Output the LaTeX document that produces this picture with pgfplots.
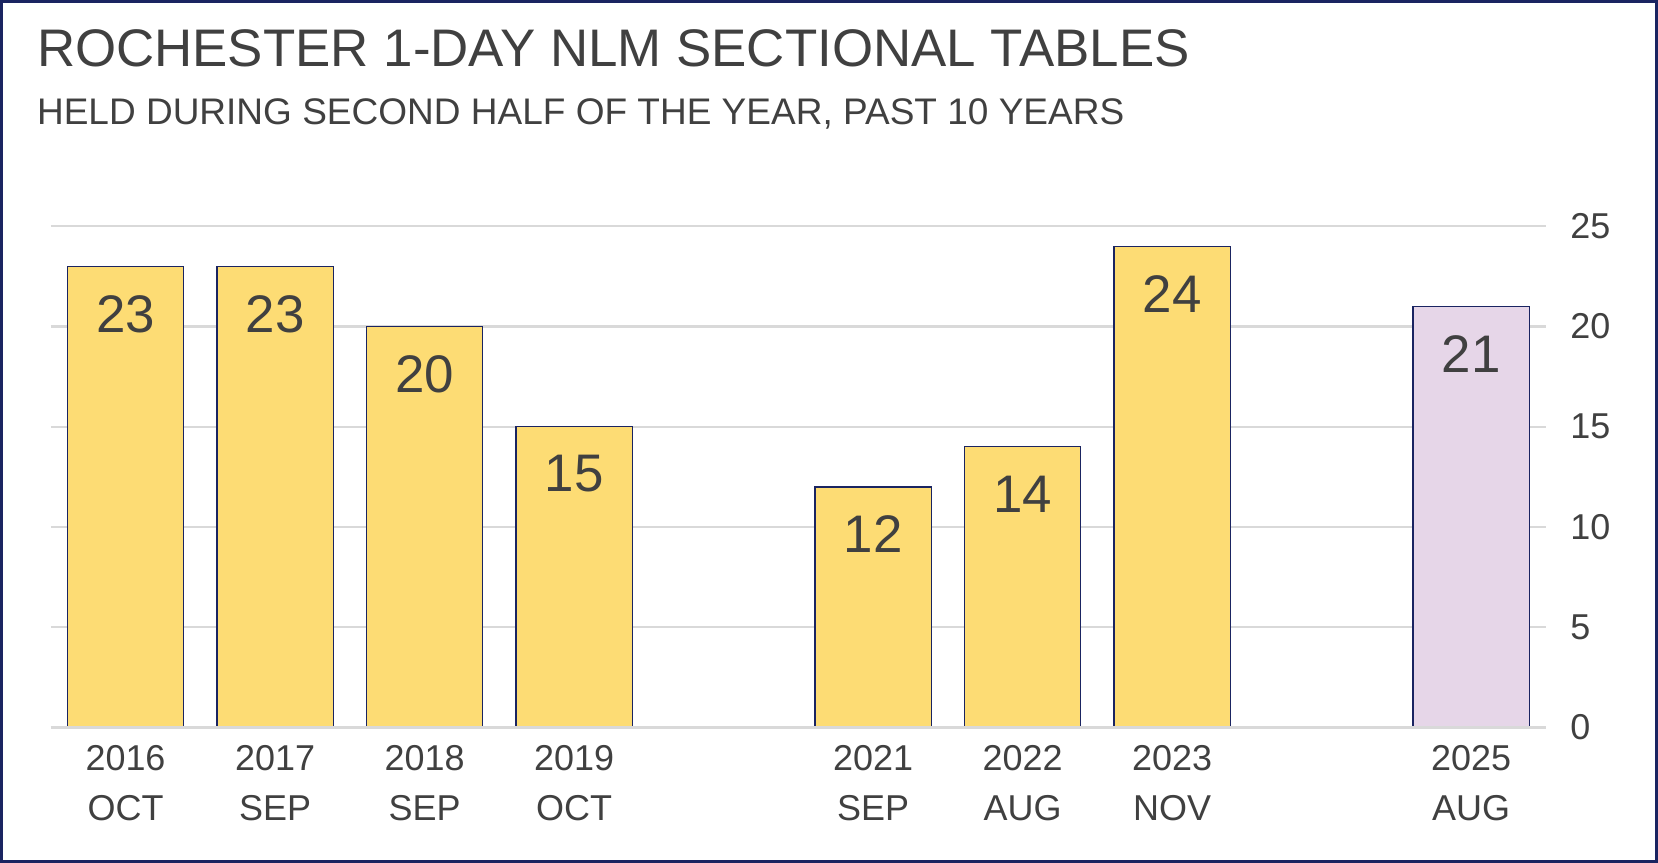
\documentclass[border=0pt]{standalone}
\usepackage{pgfplots}
\pgfplotsset{compat=1.18}
\usepackage{fontspec}
\setmainfont{Liberation Sans}
\definecolor{bary}{HTML}{FDDC74}
\definecolor{barp}{HTML}{E6D6E8}
\definecolor{navy}{HTML}{1A2461}
\definecolor{txt}{HTML}{404040}
\definecolor{grd}{HTML}{D9D9D9}
\begin{document}
\begin{tikzpicture}[x=1pt,y=1pt]
\fill[white] (0,0) rectangle (784,408);
\node[anchor=west,text=txt,font=\fontsize{25}{28}\selectfont] at (14,385) {ROCHESTER 1-DAY NLM SECTIONAL TABLES};
\node[anchor=west,text=txt,font=\fontsize{17.5}{20}\selectfont] at (14,354) {HELD DURING SECOND HALF OF THE YEAR, PAST 10 YEARS};
\begin{axis}[at={(24pt,64pt)},anchor=south west,scale only axis,
 width=707pt,height=237pt,xmin=-0.5,xmax=9.5,ymin=0,ymax=25,
 axis line style={draw=none},
 ybar, bar width=55pt, bar shift=0pt,
 ymajorgrids, grid style={grd,line width=1pt},
 ytick={0,5,...,25}, ytick pos=right, yticklabel pos=right,
 major tick length=0pt,
 yticklabel style={text=txt,font=\fontsize{17}{20}\selectfont,xshift=8pt},
 xtick={0,1,2,3,5,6,7,9},
 xticklabels={2016\\OCT,2017\\SEP,2018\\SEP,2019\\OCT,2021\\SEP,2022\\AUG,2023\\NOV,2025\\AUG},
 xticklabel style={text=txt,align=center,font=\fontsize{17}{23.5}\selectfont,yshift=-5pt},
 nodes near coords,
 every node near coord/.append style={anchor=north,yshift=-10pt,text=txt,font=\fontsize{25}{28}\selectfont},
 /pgf/number format/assume math mode=true,
 clip=false]
\addplot[draw=navy,fill=bary,line width=0.6pt] coordinates {(0,23)(1,23)(2,20)(3,15)(5,12)(6,14)(7,24)};
\addplot[draw=navy,fill=barp,line width=0.6pt] coordinates {(9,21)};
\draw[grd,line width=1pt] (axis cs:-0.5,0) -- (axis cs:9.5,0);
\end{axis}
\draw[navy,line width=1.2pt] (0.6,0.6) rectangle (783.4,407.4);
\end{tikzpicture}
\end{document}
